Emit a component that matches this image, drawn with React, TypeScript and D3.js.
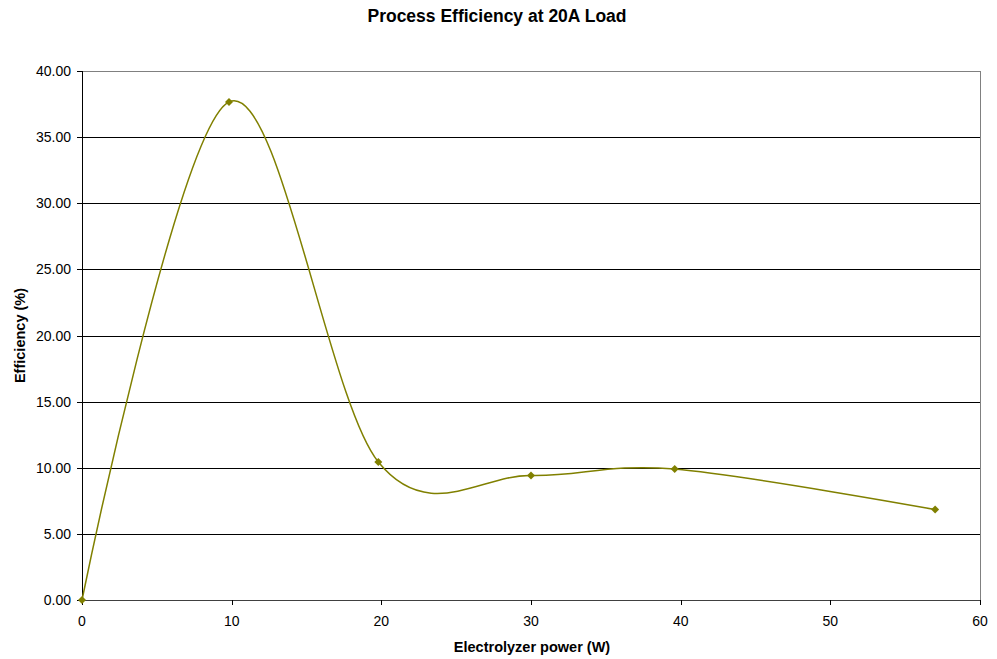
import React from "react";
import * as d3 from "d3";

// Electrolyzer power (W) vs process efficiency (%)
const powerW = [0, 9.82, 19.8, 30.0, 39.6, 57.0];
const efficiencyPct = [0, 37.66, 10.43, 9.41, 9.9, 6.84];
const xTicks = [0, 10, 20, 30, 40, 50, 60];
const yTicks = [0, 5, 10, 15, 20, 25, 30, 35, 40];

const W = 997;
const H = 659;
const margin = { left: 82, right: 17, top: 71, bottom: 59 };
const font = "'Liberation Sans', Arial, sans-serif";
const olive = "#808000";

export default function App() {
  const x = d3.scaleLinear().domain([0, 60]).range([margin.left, W - margin.right]);
  const y = d3.scaleLinear().domain([0, 40]).range([H - margin.bottom, margin.top]);
  const pts: [number, number][] = powerW.map((p, i) => [x(p), y(efficiencyPct[i])]);
  const line = d3.line().curve(d3.curveCardinal.tension(0))(pts) || "";
  const x0 = x(0), x1 = x(60), y0 = y(0), y1 = y(40);

  return (
    <svg width={W} height={H} style={{ position: "absolute", left: 0, top: 0 }} fontFamily={font}>
      <rect width={W} height={H} fill="#fff" />
      <text x={497} y={22} textAnchor="middle" fontSize={17.5} fontWeight="bold">
        Process Efficiency at 20A Load
      </text>
      {/* horizontal gridlines */}
      {yTicks.filter((t) => t > 0 && t < 40).map((t) => (
        <line key={t} x1={x0} x2={x1} y1={Math.round(y(t)) + 0.5} y2={Math.round(y(t)) + 0.5} stroke="#000" />
      ))}
      {/* plot frame */}
      <line x1={x0} x2={x1} y1={Math.round(y1) + 0.5} y2={Math.round(y1) + 0.5} stroke="#808080" />
      <line x1={Math.round(x1) + 0.5} x2={Math.round(x1) + 0.5} y1={y1} y2={y0} stroke="#808080" />
      {/* axes */}
      <line x1={Math.round(x0) + 0.5} x2={Math.round(x0) + 0.5} y1={y1} y2={y0} stroke="#000" />
      <line x1={x0} x2={x1} y1={Math.round(y0) + 0.5} y2={Math.round(y0) + 0.5} stroke="#404040" />
      {yTicks.map((t) => (
        <g key={t}>
          <line x1={x0 - 5} x2={x0} y1={Math.round(y(t)) + 0.5} y2={Math.round(y(t)) + 0.5} stroke="#000" />
          <text x={x0 - 11} y={y(t) + 5} textAnchor="end" fontSize={14}>
            {t.toFixed(2)}
          </text>
        </g>
      ))}
      {xTicks.map((t) => (
        <g key={t}>
          <line x1={Math.round(x(t)) + 0.5} x2={Math.round(x(t)) + 0.5} y1={y0} y2={y0 + 5} stroke="#000" />
          <text x={x(t)} y={y0 + 26} textAnchor="middle" fontSize={14}>
            {t}
          </text>
        </g>
      ))}
      <text x={532} y={652} textAnchor="middle" fontSize={14.5} fontWeight="bold">
        Electrolyzer power (W)
      </text>
      <text transform={`translate(25,${(y0 + y1) / 2}) rotate(-90)`} textAnchor="middle" fontSize={14.5} fontWeight="bold">
        Efficiency (%)
      </text>
      <path d={line} fill="none" stroke={olive} strokeWidth={1.5} />
      {pts.map(([px, py], i) => (
        <path key={i} d={`M${px},${py - 4}L${px + 4},${py}L${px},${py + 4}L${px - 4},${py}Z`} fill={olive} />
      ))}
    </svg>
  );
}
